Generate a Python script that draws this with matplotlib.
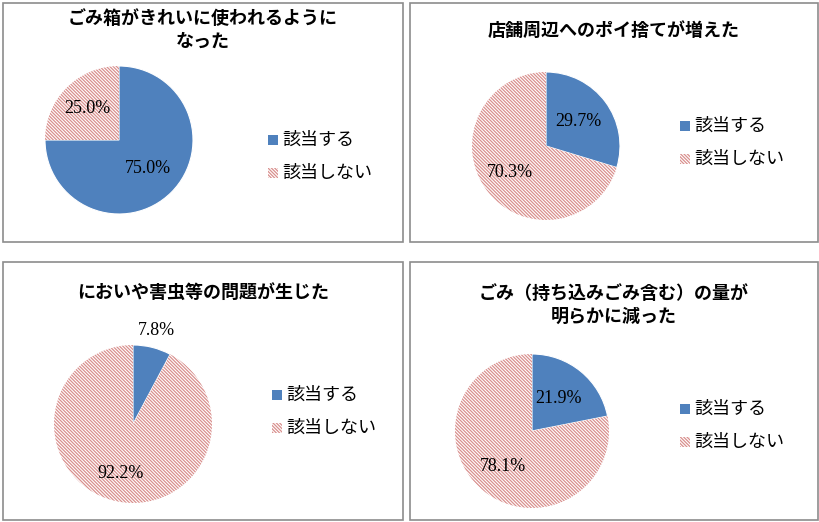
import numpy as np
import matplotlib.pyplot as plt
from matplotlib.patches import Rectangle

titles = ["ごみ箱がきれいに使われるように\nなった", "店舗周辺へのポイ捨てが増えた",
          "においや害虫等の問題が生じた", "ごみ（持ち込みごみ含む）の量が\n明らかに減った"]
yes_pct = [75.0, 29.7, 7.8, 21.9]
legend_labels = ["該当する", "該当しない"]
label_dist = [[0.55, 0.6], [0.55, 0.6], [1.22, 0.65], [0.55, 0.6]]

W, H = 820, 522
fig = plt.figure(figsize=(W / 100, H / 100), dpi=100)
plt.rcParams["hatch.linewidth"] = 0.9
jp = "Noto Sans CJK JP"
BLUE, PINK = "#4F81BD", "#D9908E"
HATCH = "\\" * 10

# panel boxes (x0, y0, x1, y1 in pixels, top-left origin)
panels = [(3, 3, 403, 242), (410, 3, 818, 242), (3, 262, 403, 520), (410, 262, 818, 520)]
centers = [(119, 140, 74), (546, 146, 74), (133, 424, 79), (532, 431, 77)]
title_y = [30, 30, 292, 305]
leg_xy = [(282, 140), (694, 126), (286, 395), (694, 409)]

def fx(x): return x / W
def fy(y): return 1 - y / H

for i in range(4):
    x0, y0, x1, y1 = panels[i]
    fig.add_artist(Rectangle((fx(x0), fy(y1)), fx(x1 - x0), (y1 - y0) / H,
                             fill=False, edgecolor="#8C8C8C", lw=1.2, transform=fig.transFigure))
    fig.text(fx((x0 + x1) / 2), fy(title_y[i]), titles[i], ha="center", va="center",
             fontsize=13, fontfamily=jp, fontweight="bold", linespacing=1.3)
    cx, cy, r = centers[i]
    ax = fig.add_axes([fx(cx - r), fy(cy + r), 2 * r / W, 2 * r / H])
    vals = [yes_pct[i], 100 - yes_pct[i]]
    wedges, _ = ax.pie(vals, startangle=90, counterclock=False, colors=[BLUE, "white"],
                       wedgeprops=dict(linewidth=0.8, edgecolor="white"))
    wedges[1].set_hatch(HATCH)
    wedges[1].set_edgecolor(PINK)
    wedges[1].set_linewidth(0)
    ang = 90
    for j, v in enumerate(vals):
        mid = np.deg2rad(ang - v * 3.6 / 2)
        d = label_dist[i][j]
        ax.text(d * np.cos(mid), d * np.sin(mid), f"{v:.1f}%", ha="center", va="center",
                fontsize=13, fontfamily="Liberation Serif")
        ang -= v * 3.6
    ax.set_xlim(-1, 1); ax.set_ylim(-1, 1); ax.set_aspect("equal")
    lx, ly = leg_xy[i]
    for k, lab in enumerate(legend_labels):
        yy = ly + k * 33
        if k == 0:
            sq = Rectangle((fx(lx - 14), fy(yy + 5)), 10 / W, 10 / H, facecolor=BLUE,
                           edgecolor="none", transform=fig.transFigure)
        else:
            sq = Rectangle((fx(lx - 14), fy(yy + 5)), 10 / W, 10 / H, facecolor="white",
                           edgecolor=PINK, lw=0, hatch=HATCH, transform=fig.transFigure)
        fig.add_artist(sq)
        fig.text(fx(lx), fy(yy), lab, ha="left", va="center", fontsize=13, fontfamily=jp)

fig.savefig("out.png", dpi=100)
